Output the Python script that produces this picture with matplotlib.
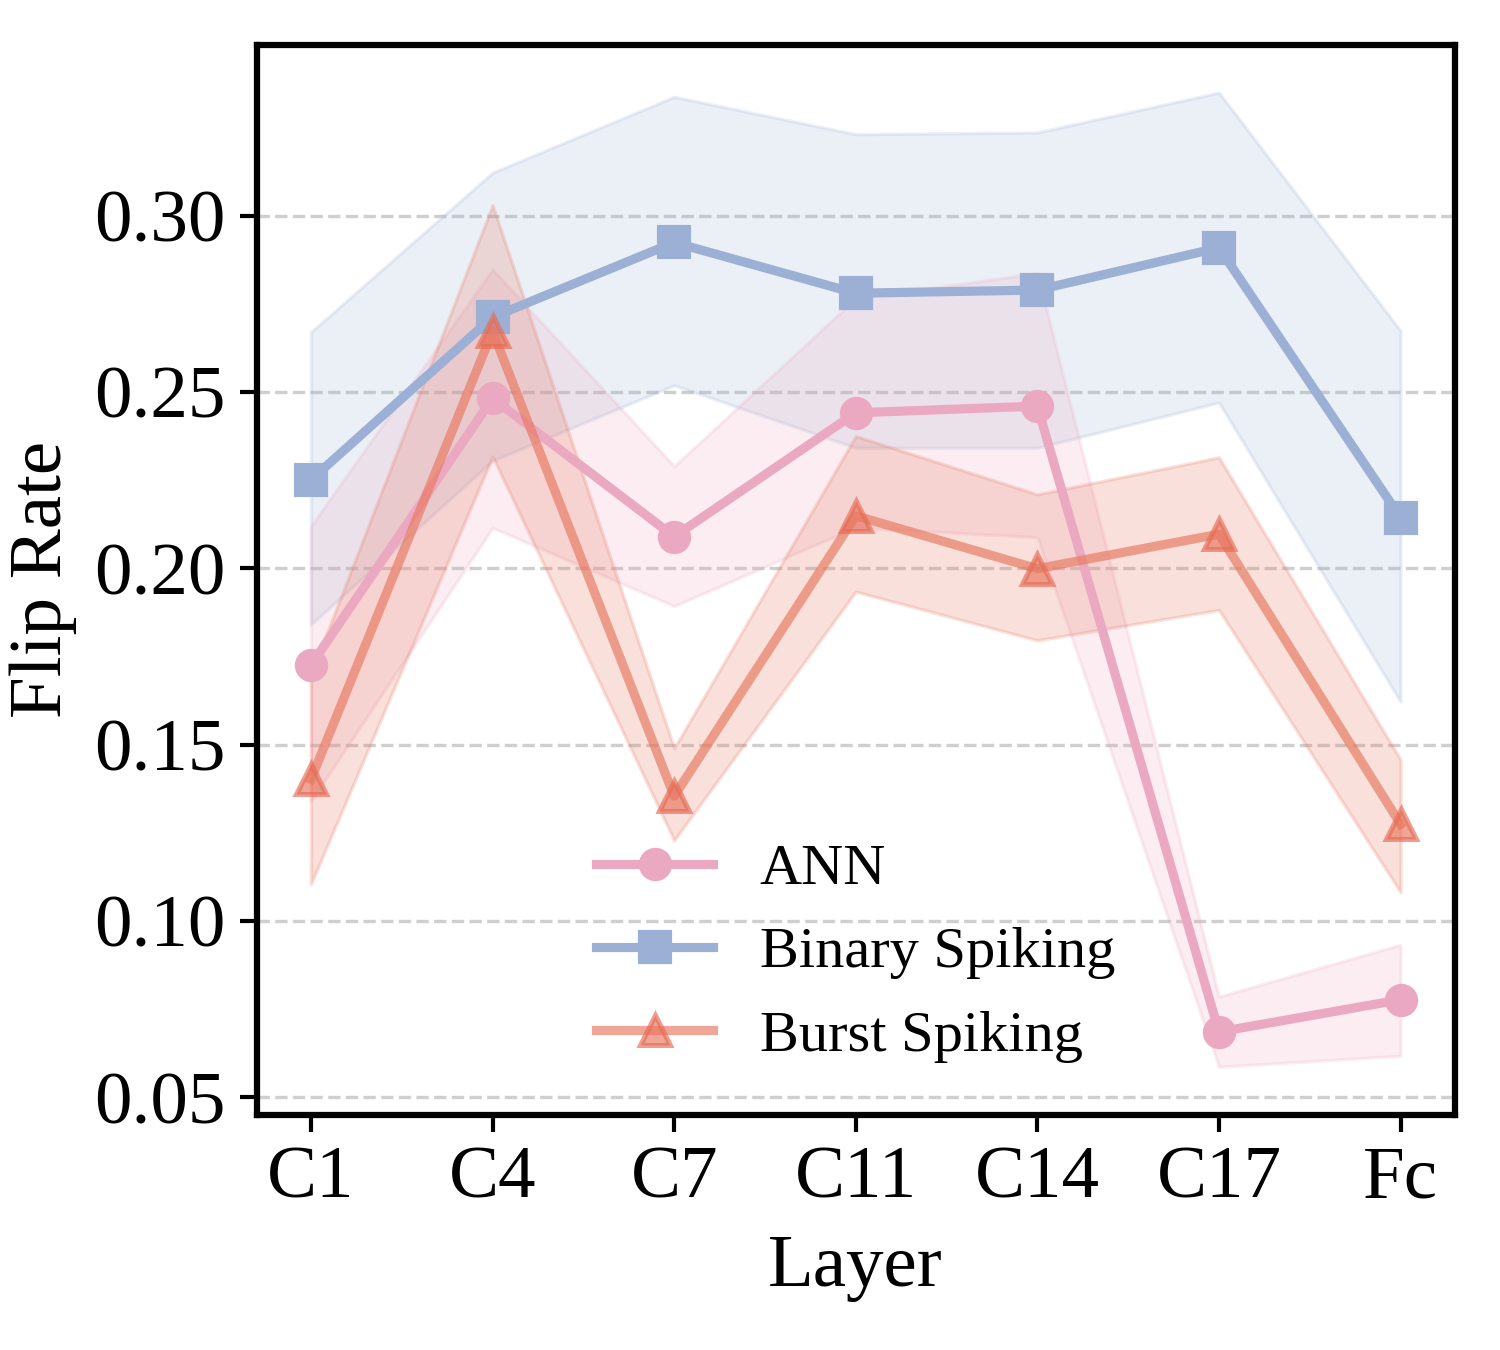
import numpy as np
import matplotlib
matplotlib.use('Agg')
import matplotlib.pyplot as plt

plt.rcParams['font.family'] = ['Liberation Serif', 'DejaVu Serif']

# ====================== data ======================
layers = ['C1', 'C4', 'C7', 'C11', 'C14', 'C17', 'Fc']

ann_mean = [0.1726, 0.2482, 0.2090, 0.2441, 0.2460, 0.0686, 0.0777]
ann_upper = [0.2120, 0.2847, 0.2290, 0.2765, 0.2837, 0.0786, 0.0933]
ann_lower = [0.1340, 0.2115, 0.1893, 0.2116, 0.2088, 0.0587, 0.0618]

binary_mean = [0.2251, 0.2712, 0.2924, 0.2780, 0.2789, 0.2909, 0.2144]
binary_upper = [0.2670, 0.3122, 0.3337, 0.3231, 0.3236, 0.3349, 0.2674]
binary_lower = [0.1841, 0.2305, 0.2519, 0.2342, 0.2342, 0.2470, 0.1622]

burst_mean = [0.1402, 0.2672, 0.1354, 0.2149, 0.1999, 0.2097, 0.1275]
burst_upper = [0.1700, 0.3030, 0.1490, 0.2375, 0.2210, 0.2315, 0.1458]
burst_lower = [0.1105, 0.2317, 0.1229, 0.1934, 0.1796, 0.1882, 0.1082]

x = np.arange(len(layers))

c_ann = '#EBA9C1'
c_bin = '#9BB0D4'
c_bur = '#E8765E'

fig, ax = plt.subplots(figsize=(5, 4.5), dpi=300)
fig.subplots_adjust(left=0.171, right=0.97, top=0.967, bottom=0.174)

ax.fill_between(x, binary_lower, binary_upper, color=c_bin, alpha=0.2, lw=0.8)
ax.fill_between(x, ann_lower, ann_upper, color=c_ann, alpha=0.2, lw=0.8)
ax.fill_between(x, burst_lower, burst_upper, color=c_bur, alpha=0.22, lw=0.8)

ax.plot(x, ann_mean, color=c_ann, marker='o', lw=2.2, ms=7, label='ANN', zorder=3)
ax.plot(x, binary_mean, color=c_bin, marker='s', lw=2.2, ms=7, label='Binary Spiking', zorder=3)
ax.plot(x, burst_mean, color=c_bur, alpha=0.65, marker='^', lw=2.2, ms=7,
        mfc=(0.91, 0.46, 0.37, 0.5), mec=(0.90, 0.42, 0.33, 0.8), mew=1.2,
        label='Burst Spiking', zorder=3)

ax.set_xticks(x)
ax.set_xticklabels(layers)
ax.set_yticks([0.05, 0.10, 0.15, 0.20, 0.25, 0.30])
ax.set_ylim(0.045, 0.3485)
ax.tick_params(labelsize=18, width=1.0, length=4)
ax.set_xlabel('Layer', fontsize=18, labelpad=5)
ax.set_ylabel('Flip Rate', fontsize=18, labelpad=4)

ax.yaxis.grid(True, linestyle='--', color='#cfcfcf', lw=0.8)
ax.set_axisbelow(True)
for s in ax.spines.values():
    s.set_linewidth(1.5)

ax.legend(loc='lower center', frameon=False, fontsize=14, labelspacing=0.52,
          bbox_to_anchor=(0.5, 0.0))

plt.savefig('out.png', dpi=300)
